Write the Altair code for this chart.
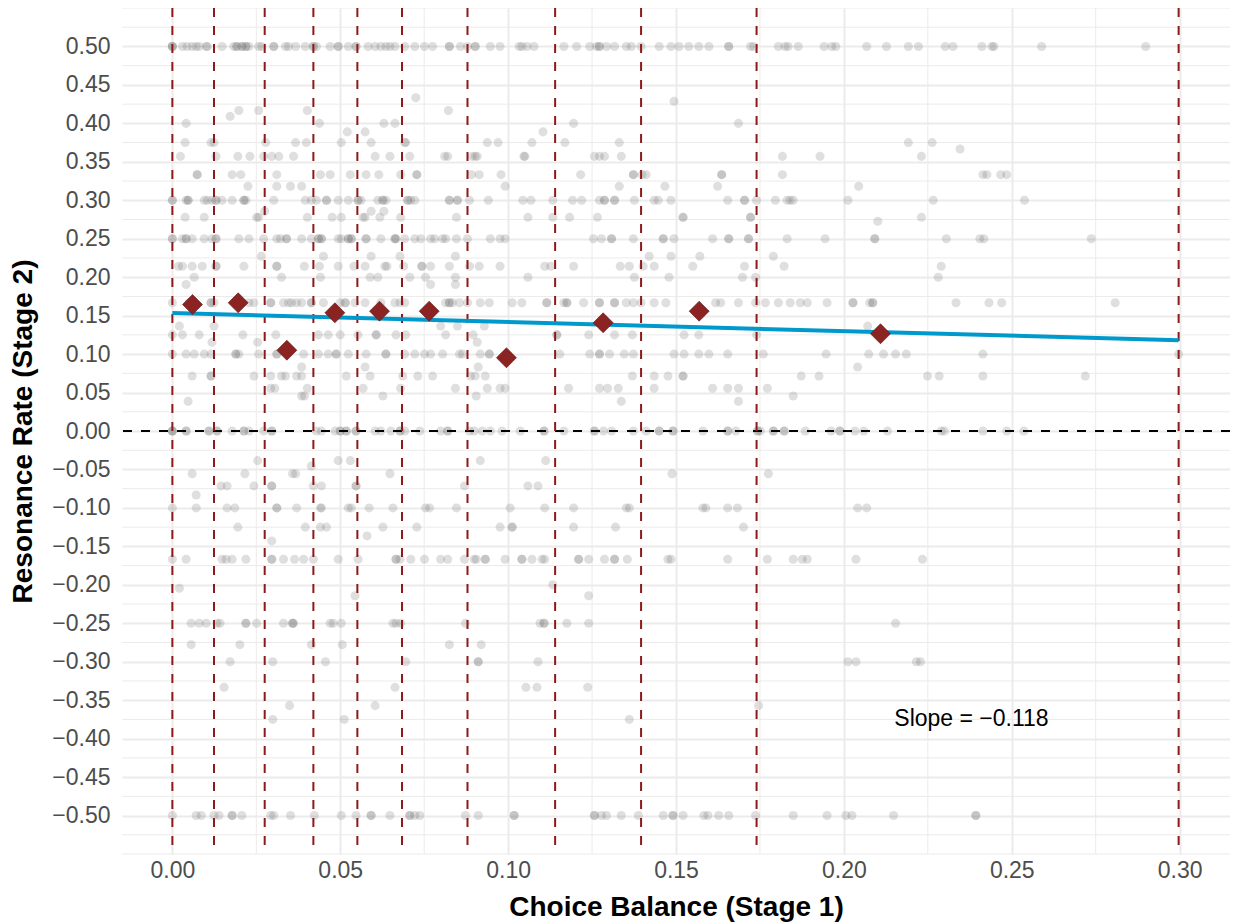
import altair as alt
import pandas as pd

# ---- scatter points: x values (Choice Balance) for each resonance-rate level ----
x_y500 = [0.0, 0.0, 0.0, 0.0030, 0.0044, 0.0059, 0.0071, 0.0080, 0.0101, 0.0104, 0.0148, 0.0183, 0.0192, 0.0192,
          0.0207, 0.0207, 0.0219, 0.0219, 0.0228, 0.0257, 0.0266, 0.0302, 0.0302, 0.0337, 0.0346, 0.0367, 0.0396,
          0.0420, 0.0420, 0.0429, 0.0470, 0.0494, 0.0494, 0.0524, 0.0547, 0.0547, 0.0583, 0.0604, 0.0621, 0.0636,
          0.0648, 0.0663, 0.0692, 0.0722, 0.0751, 0.0775, 0.0825, 0.0825, 0.0858, 0.0879, 0.0902, 0.0902, 0.0947,
          0.0976, 0.1033, 0.1041, 0.1056, 0.1077, 0.1166, 0.1204, 0.1243, 0.1263, 0.1272, 0.1272, 0.1293, 0.1317,
          0.1352, 0.1367, 0.1396, 0.1450, 0.1485, 0.1509, 0.1538, 0.1568, 0.1598, 0.1657, 0.1657, 0.1722, 0.1731,
          0.1805, 0.1825, 0.1834, 0.1864, 0.1941, 0.1964, 0.1976, 0.2068, 0.2127, 0.2192, 0.2222, 0.2302, 0.2325,
          0.2411, 0.2441, 0.2447, 0.2589, 0.2899]
x_y433 = [0.0725]
x_y429 = [0.1494]
x_y417 = [0.0198, 0.0257, 0.0402, 0.0822]
x_y409 = [0.0172]
x_y400 = [0.0041, 0.0438, 0.0630, 0.0663, 0.1195, 0.1686]
x_y389 = [0.0521, 0.0574, 0.1104]
x_y375 = [0.0038, 0.0115, 0.0124, 0.0278, 0.0367, 0.0399, 0.0503, 0.0592, 0.0692, 0.0695, 0.0938, 0.0970, 0.1071,
          0.1169, 0.1331, 0.2192, 0.2263]
x_y367 = [0.2346]
x_y357 = [0.0024, 0.0130, 0.0195, 0.0231, 0.0272, 0.0296, 0.0317, 0.0361, 0.0604, 0.0648, 0.0707, 0.0811, 0.0820,
          0.0893, 0.0902, 0.0908, 0.1047, 0.1050, 0.1257, 0.1272, 0.1287, 0.1337, 0.1817, 0.1929, 0.2231]
x_y333 = [0.0074, 0.0074, 0.0178, 0.0204, 0.0311, 0.0441, 0.0470, 0.0530, 0.0577, 0.0615, 0.0680, 0.0728, 0.0728,
          0.0891, 0.0914, 0.0979, 0.1216, 0.1373, 0.1373, 0.1399, 0.1411, 0.1636, 0.1636, 0.1817, 0.2414, 0.2426,
          0.2467, 0.2485]
x_y318 = [0.0225, 0.0311, 0.0352, 0.0385, 0.0991, 0.1331, 0.1467, 0.1624, 0.2044]
x_y300 = [0.0, 0.0, 0.0041, 0.0047, 0.0047, 0.0095, 0.0104, 0.0118, 0.0130, 0.0130, 0.0148, 0.0178, 0.0213, 0.0213,
          0.0219, 0.0302, 0.0396, 0.0414, 0.0429, 0.0459, 0.0459, 0.0494, 0.0524, 0.0553, 0.0553, 0.0562, 0.0612,
          0.0627, 0.0627, 0.0636, 0.0701, 0.0701, 0.0710, 0.0722, 0.0825, 0.0825, 0.0849, 0.0849, 0.0885, 0.0941,
          0.1044, 0.1068, 0.1133, 0.1192, 0.1219, 0.1272, 0.1287, 0.1287, 0.1317, 0.1317, 0.1376, 0.1435, 0.1447,
          0.1485, 0.1654, 0.1704, 0.1704, 0.1740, 0.1796, 0.1831, 0.1840, 0.1849, 0.2012, 0.2266, 0.2538]
x_y286 = [0.0275, 0.0592, 0.0630]
x_y278 = [0.0038, 0.0095, 0.0251, 0.0257, 0.0402, 0.0476, 0.0503, 0.0568, 0.0574, 0.0618, 0.0680, 0.0846, 0.1059,
          0.1133, 0.1183, 0.1266, 0.1521, 0.1521, 0.1722, 0.1722, 0.2231]
x_y273 = [0.2101]
x_y250 = [0.0, 0.0, 0.0030, 0.0041, 0.0041, 0.0059, 0.0095, 0.0118, 0.0130, 0.0130, 0.0198, 0.0228, 0.0272, 0.0311,
          0.0322, 0.0340, 0.0340, 0.0385, 0.0414, 0.0435, 0.0435, 0.0444, 0.0444, 0.0494, 0.0503, 0.0524, 0.0524,
          0.0533, 0.0533, 0.0577, 0.0577, 0.0621, 0.0663, 0.0663, 0.0666, 0.0692, 0.0722, 0.0740, 0.0769, 0.0781,
          0.0805, 0.0814, 0.0846, 0.0879, 0.0947, 0.0976, 0.0991, 0.1254, 0.1278, 0.1308, 0.1308, 0.1373, 0.1462,
          0.1462, 0.1494, 0.1609, 0.1657, 0.1657, 0.1716, 0.1716, 0.1831, 0.1944, 0.2092, 0.2092, 0.2305, 0.2405,
          0.2417, 0.2737]
x_y227 = [0.0265, 0.0450, 0.0592, 0.0678, 0.0843, 0.1420, 0.1485, 0.1571, 0.1790]
x_y214 = [0.0018, 0.0030, 0.0059, 0.0089, 0.0130, 0.0130, 0.0213, 0.0311, 0.0311, 0.0393, 0.0438, 0.0494, 0.0541,
          0.0574, 0.0633, 0.0639, 0.0689, 0.0743, 0.0743, 0.0769, 0.0825, 0.0885, 0.0914, 0.0976, 0.1109, 0.1127,
          0.1195, 0.1334, 0.1361, 0.1402, 0.1435, 0.1550, 0.1704, 0.1822, 0.2290]
x_y200 = [0.0065, 0.0325, 0.0441, 0.0589, 0.0612, 0.0707, 0.0754, 0.0843, 0.1059, 0.1376, 0.1479, 0.1698, 0.1737,
          0.2281]
x_y190 = [0.0041, 0.0769, 0.0843]
x_y167 = [0.0, 0.0050, 0.0115, 0.0115, 0.0124, 0.0198, 0.0228, 0.0243, 0.0293, 0.0293, 0.0331, 0.0346, 0.0355,
          0.0370, 0.0385, 0.0414, 0.0414, 0.0450, 0.0500, 0.0515, 0.0515, 0.0544, 0.0574, 0.0621, 0.0663, 0.0678,
          0.0692, 0.0814, 0.0825, 0.0825, 0.0834, 0.0855, 0.0879, 0.0917, 0.0944, 0.1012, 0.1041, 0.1115, 0.1115,
          0.1166, 0.1175, 0.1175, 0.1225, 0.1272, 0.1272, 0.1317, 0.1317, 0.1352, 0.1373, 0.1396, 0.1435, 0.1470,
          0.1618, 0.1633, 0.1686, 0.1737, 0.1766, 0.1805, 0.1840, 0.1870, 0.1891, 0.1950, 0.2027, 0.2027, 0.2077,
          0.2086, 0.2086, 0.2334, 0.2432, 0.2470, 0.2808]
x_y136 = [0.0021, 0.0124, 0.0799, 0.0849, 0.0929, 0.2071]
x_y125 = [0.0, 0.0030, 0.0080, 0.0210, 0.0308, 0.0435, 0.0464, 0.0500, 0.0553, 0.0607, 0.0607, 0.0666, 0.0695,
          0.0814, 0.0896, 0.1145, 0.1145, 0.1240, 0.1317, 0.1370, 0.1524, 0.1568, 0.1740]
x_y115 = [0.0118, 0.0254, 0.0908]
x_y100 = [0.0, 0.0041, 0.0065, 0.0095, 0.0115, 0.0189, 0.0189, 0.0198, 0.0257, 0.0311, 0.0311, 0.0391, 0.0435,
          0.0464, 0.0488, 0.0488, 0.0524, 0.0577, 0.0636, 0.0636, 0.0692, 0.0722, 0.0751, 0.0769, 0.0805, 0.0855,
          0.0864, 0.0917, 0.0944, 0.0944, 0.1154, 0.1243, 0.1272, 0.1272, 0.1302, 0.1346, 0.1373, 0.1494, 0.1524,
          0.1568, 0.1598, 0.1654, 0.1760, 0.1947, 0.2074, 0.2118, 0.2154, 0.2186, 0.2414, 0.2997]
x_y083 = [0.0385, 0.0574, 0.0911, 0.2041]
x_y071 = [0.0059, 0.0115, 0.0115, 0.0243, 0.0293, 0.0325, 0.0337, 0.0370, 0.0385, 0.0518, 0.0589, 0.0686, 0.0731,
          0.0775, 0.0888, 0.0902, 0.0932, 0.1370, 0.1435, 0.1476, 0.1521, 0.1521, 0.1873, 0.1926, 0.2249, 0.2284,
          0.2414, 0.2719]
x_y056 = [0.0293, 0.0305, 0.0402, 0.0568, 0.0680, 0.0843, 0.0938, 0.0976, 0.0991, 0.1180, 0.1272, 0.1296, 0.1328,
          0.1435, 0.1609, 0.1654, 0.1686, 0.1772]
x_y045 = [0.0385, 0.0393, 0.0627, 0.0905, 0.1849]
x_y038 = [0.0047, 0.1337, 0.1686]
x_y000 = [0.0, 0.0, 0.0, 0.0041, 0.0041, 0.0109, 0.0109, 0.0133, 0.0133, 0.0178, 0.0213, 0.0213, 0.0228, 0.0272,
          0.0296, 0.0296, 0.0429, 0.0444, 0.0485, 0.0500, 0.0500, 0.0518, 0.0518, 0.0547, 0.0547, 0.0604, 0.0621,
          0.0651, 0.0678, 0.0678, 0.0692, 0.0737, 0.0799, 0.0820, 0.0820, 0.0885, 0.0899, 0.0923, 0.0947, 0.0982,
          0.1036, 0.1107, 0.1107, 0.1166, 0.1257, 0.1257, 0.1284, 0.1308, 0.1373, 0.1411, 0.1450, 0.1450, 0.1491,
          0.1491, 0.1580, 0.1654, 0.1654, 0.1678, 0.1743, 0.1743, 0.1751, 0.1790, 0.1790, 0.1822, 0.1822, 0.1885,
          0.1962, 0.1988, 0.1988, 0.2033, 0.2059, 0.2130, 0.2290, 0.2299, 0.2414, 0.2485, 0.2536]
x_n038 = [0.0254, 0.0494, 0.0530, 0.0917, 0.1112]
x_n045 = [0.0414]
x_n056 = [0.0059, 0.0216, 0.0358, 0.0367, 0.0648, 0.1488, 0.1775]
x_n071 = [0.0145, 0.0163, 0.0243, 0.0296, 0.0296, 0.0420, 0.0444, 0.0547, 0.0547, 0.0870, 0.1059, 0.1089]
x_n083 = [0.0071]
x_n100 = [0.0, 0.0071, 0.0163, 0.0186, 0.0311, 0.0311, 0.0370, 0.0441, 0.0444, 0.0524, 0.0533, 0.0586, 0.0657,
          0.0754, 0.0766, 0.0846, 0.1006, 0.1109, 0.1195, 0.1352, 0.1361, 0.1580, 0.1589, 0.1654, 0.1683, 0.2041,
          0.2068]
x_n125 = [0.0195, 0.0396, 0.0441, 0.0459, 0.0627, 0.0728, 0.0976, 0.1012, 0.1012, 0.1195, 0.1320, 0.1701]
x_n136 = [0.0580]
x_n143 = [0.0296]
x_n167 = [0.0, 0.0041, 0.0148, 0.0160, 0.0178, 0.0219, 0.0296, 0.0296, 0.0331, 0.0364, 0.0391, 0.0420, 0.0494,
          0.0553, 0.0666, 0.0666, 0.0678, 0.0710, 0.0751, 0.0799, 0.0820, 0.0870, 0.0899, 0.0905, 0.0932, 0.0932,
          0.0991, 0.1041, 0.1041, 0.1071, 0.1101, 0.1109, 0.1210, 0.1210, 0.1240, 0.1287, 0.1317, 0.1317, 0.1355,
          0.1476, 0.1485, 0.1654, 0.1772, 0.1849, 0.1876, 0.1891, 0.2036, 0.2234]
x_n200 = [0.1133]
x_n205 = [0.0021]
x_n214 = [0.0544, 0.1240]
x_n250 = [0.0056, 0.0080, 0.0101, 0.0133, 0.0142, 0.0219, 0.0219, 0.0251, 0.0331, 0.0358, 0.0358, 0.0361, 0.0470,
          0.0479, 0.0503, 0.0657, 0.0666, 0.0680, 0.0873, 0.1095, 0.1107, 0.1107, 0.1175, 0.1240, 0.2154]
x_n278 = [0.0056, 0.0201, 0.0414, 0.0506, 0.0825, 0.0920]
x_n300 = [0.0172, 0.0299, 0.0456, 0.0695, 0.0911, 0.0911, 0.1089, 0.2012, 0.2036, 0.2216, 0.2228]
x_n333 = [0.0154, 0.0663, 0.1053, 0.1086, 0.1237]
x_n357 = [0.0349, 0.0604, 0.1746]
x_n375 = [0.0299, 0.0512, 0.1361]
x_n500 = [0.0, 0.0071, 0.0086, 0.0124, 0.0139, 0.0178, 0.0178, 0.0207, 0.0293, 0.0302, 0.0352, 0.0423, 0.0503,
          0.0547, 0.0592, 0.0592, 0.0648, 0.0707, 0.0707, 0.0722, 0.0737, 0.0873, 0.0911, 0.1018, 0.1018, 0.1257,
          0.1257, 0.1278, 0.1293, 0.1337, 0.1388, 0.1462, 0.1491, 0.1491, 0.1521, 0.1583, 0.1595, 0.1627, 0.1657,
          0.1737, 0.1849, 0.1950, 0.2006, 0.2024, 0.2148, 0.2393, 0.2393]

point_rows = [
    (0.5, x_y500), (0.4333, x_y433), (0.4286, x_y429), (0.4167, x_y417), (0.4091, x_y409), (0.4, x_y400),
    (0.3889, x_y389), (0.375, x_y375), (0.3667, x_y367), (0.3571, x_y357), (0.3333, x_y333), (0.3182, x_y318),
    (0.3, x_y300), (0.2857, x_y286), (0.2778, x_y278), (0.2727, x_y273), (0.25, x_y250), (0.2273, x_y227),
    (0.2143, x_y214), (0.2, x_y200), (0.1905, x_y190), (0.1667, x_y167), (0.1364, x_y136), (0.125, x_y125),
    (0.1154, x_y115), (0.1, x_y100), (0.0833, x_y083), (0.0714, x_y071), (0.0556, x_y056), (0.0455, x_y045),
    (0.0385, x_y038), (0.0, x_y000), (-0.0385, x_n038), (-0.0455, x_n045), (-0.0556, x_n056), (-0.0714, x_n071),
    (-0.0833, x_n083), (-0.1, x_n100), (-0.125, x_n125), (-0.1364, x_n136), (-0.1429, x_n143), (-0.1667, x_n167),
    (-0.2, x_n200), (-0.2045, x_n205), (-0.2143, x_n214), (-0.25, x_n250), (-0.2778, x_n278), (-0.3, x_n300),
    (-0.3333, x_n333), (-0.3571, x_n357), (-0.375, x_n375), (-0.5, x_n500),
]

# ---- bin boundaries, bin means, fitted line ----
bin_edges = [0.0, 0.0124, 0.0275, 0.0420, 0.0551, 0.0684, 0.0879, 0.1140, 0.1396, 0.1740, 0.2997]
bin_mean_x = [0.0060, 0.0196, 0.0341, 0.0484, 0.0617, 0.0765, 0.0995, 0.1283, 0.1569, 0.2109]
bin_mean_y = [0.1645, 0.1667, 0.1050, 0.1537, 0.1558, 0.1558, 0.0952, 0.1407, 0.1558, 0.1264]
fit_x = [0.0, 0.2997]
fit_y = [0.1535, 0.1181]
annotation_text = ["Slope = \u22120.118"]
annotation_x = [0.238]
annotation_y = [-0.374]

# ---- axis ticks ----
x_major = [0.0, 0.05, 0.10, 0.15, 0.20, 0.25, 0.30]
x_minor = [0.025, 0.075, 0.125, 0.175, 0.225, 0.275]
y_major = [-0.5, -0.45, -0.4, -0.35, -0.3, -0.25, -0.2, -0.15, -0.1, -0.05, 0.0,
           0.05, 0.1, 0.15, 0.2, 0.25, 0.3, 0.35, 0.4, 0.45, 0.5]
y_minor = [-0.55, -0.525, -0.475, -0.425, -0.375, -0.325, -0.275, -0.225, -0.175, -0.125, -0.075, -0.025,
           0.025, 0.075, 0.125, 0.175, 0.225, 0.275, 0.325, 0.375, 0.425, 0.475, 0.525, 0.55]

points = pd.DataFrame([{"x": xv, "y": yv} for yv, xs in point_rows for xv in xs])

FONT = "Liberation Sans"
xscale = alt.Scale(domain=[-0.015, 0.315], nice=False, zero=False)
yscale = alt.Scale(domain=[-0.55, 0.55], nice=False, zero=False)

x_axis = alt.Axis(values=x_major, format=".2f", title="Choice Balance (Stage 1)", grid=True,
                  gridColor="#ebebeb", gridWidth=2, domain=False, ticks=False, tickSize=0,
                  labelFont=FONT, labelFontSize=23, labelColor="#4d4d4d", labelPadding=5,
                  titleFont=FONT, titleFontSize=28, titleFontWeight="bold", titleColor="black",
                  titlePadding=11)
y_axis = alt.Axis(values=y_major, labelExpr="replace(format(datum.value, '.2f'), '-', '\u2212')",
                  title="Resonance Rate (Stage 2)", grid=True, gridColor="#ebebeb", gridWidth=2,
                  domain=False, ticks=False, tickSize=0,
                  labelFont=FONT, labelFontSize=23, labelColor="#4d4d4d", labelPadding=12,
                  titleFont=FONT, titleFontSize=28, titleFontWeight="bold", titleColor="black",
                  titlePadding=14)


def X():
    return alt.X("x:Q", scale=xscale, axis=x_axis)


def Y():
    return alt.Y("y:Q", scale=yscale, axis=y_axis)


minor_x_layer = alt.Chart(pd.DataFrame({"x": x_minor})).mark_rule(color="#ebebeb", strokeWidth=1).encode(x=X())
minor_y_layer = alt.Chart(pd.DataFrame({"y": y_minor})).mark_rule(color="#ebebeb", strokeWidth=1).encode(y=Y())

pts_layer = alt.Chart(points).mark_circle(size=82, color="#666666", opacity=0.21).encode(x=X(), y=Y())

zero_layer = alt.Chart(pd.DataFrame({"y": [0.0]})).mark_rule(
    color="black", strokeWidth=2, strokeDash=[9, 9]).encode(y=Y())

vline_layer = alt.Chart(pd.DataFrame({"x": bin_edges})).mark_rule(
    color="#8B1A1A", strokeWidth=2, strokeDash=[9, 9]).encode(x=X())

fit_layer = alt.Chart(pd.DataFrame({"x": fit_x, "y": fit_y})).mark_line(
    color="#0099CC", strokeWidth=4).encode(x=X(), y=Y())

mean_layer = alt.Chart(pd.DataFrame({"x": bin_mean_x, "y": bin_mean_y})).mark_point(
    shape="diamond", filled=True, size=400, fill="#8B2323", stroke="#5e1414", strokeWidth=0.6,
    opacity=1).encode(x=X(), y=Y())

text_layer = alt.Chart(pd.DataFrame({"x": annotation_x, "y": annotation_y, "t": annotation_text})).mark_text(
    font=FONT, fontSize=23, color="black", align="center", baseline="middle").encode(
    x=X(), y=Y(), text="t:N")

chart = alt.layer(minor_x_layer, minor_y_layer, pts_layer, zero_layer, vline_layer, fit_layer,
                  mean_layer, text_layer).properties(
    width=1108, height=846,
    autosize=alt.AutoSizeParams(type="none"),
    padding={"left": 114, "top": 0, "right": 0, "bottom": 68},
    background="white",
).configure_view(stroke=None)

chart.save("out.html", embed_options={"renderer": "svg", "actions": False})
